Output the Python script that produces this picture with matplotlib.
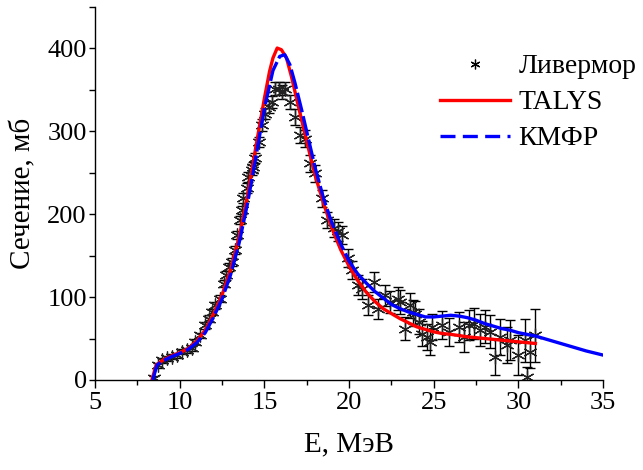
import matplotlib
matplotlib.use("Agg")
import matplotlib.pyplot as plt
from matplotlib.lines import Line2D
from matplotlib.ticker import MultipleLocator

plt.rcParams["font.family"] = ["Liberation Serif", "DejaVu Serif"]

# Livermore experimental points
exp_e = [8.45, 8.74, 8.94, 9.23, 9.53, 9.83, 10.12, 10.42, 10.7, 10.9,
         11.2, 11.5, 11.7, 11.9, 12.1, 12.4, 12.6, 12.7, 12.9, 13.1,
         13.27, 13.37, 13.56, 13.66, 13.76, 13.96, 14.05, 14.25, 14.35, 14.45,
         14.65, 14.85, 15.04, 15.24, 15.44, 15.63, 15.83, 16.03, 16.22, 16.5,
         16.8, 17.1, 17.4, 17.7, 18.0, 18.4, 18.7, 19.08, 19.37, 19.57,
         19.96, 20.16, 20.55, 20.75, 21.14, 21.44, 21.73, 22.13, 22.4, 22.9,
         23.0, 23.3, 23.6, 23.8, 23.9, 24.1, 24.3, 24.6, 24.8, 24.9,
         25.5, 25.9, 26.5, 26.8, 27.05, 27.35, 27.7, 28.0, 28.3, 28.6,
         28.9, 29.3, 29.5, 30.0, 30.4, 30.5, 30.7, 31.0]
exp_sigma = [2, 18, 24, 26, 28, 30, 34, 36, 38, 46,
             54, 66, 74, 82, 90, 98, 116, 126, 136, 142,
             157, 175, 193, 205, 219, 231, 245, 253, 257, 267,
             287, 307, 321, 329, 335, 351, 351, 347, 351, 335,
             317, 295, 291, 261, 249, 219, 193, 183, 179, 175,
             147, 133, 114, 110, 90, 118, 86, 102, 94, 98,
             94, 62, 90, 82, 80, 70, 56, 52, 46, 64,
             66, 58, 64, 52, 66, 68, 60, 64, 58, 28,
             52, 42, 48, 30, 48, 4, 34, 54]
exp_err = [3, 3, 3, 3, 3, 3, 3, 3, 3, 3,
           3, 4, 4, 4, 4, 4, 4, 5, 5, 5,
           5, 5, 5, 5, 6, 6, 6, 6, 6, 6,
           6, 7, 7, 7, 7, 8, 8, 8, 8, 9,
           10, 10, 10, 10, 10, 10, 10, 11, 11, 11,
           11, 11, 12, 12, 12, 12, 12, 13, 13, 14,
           14, 14, 15, 15, 15, 15, 15, 16, 16, 16,
           17, 17, 18, 18, 18, 19, 19, 20, 20, 22,
           22, 22, 24, 24, 26, 12, 20, 32]

# TALYS calculation
talys_e = [8.35, 8.6, 9.0, 9.5, 10.0, 10.5, 11.0, 11.5, 12.0, 12.5,
           13.0, 13.5, 14.0, 14.5, 15.0, 15.3, 15.5, 15.75, 16.0, 16.3,
           16.6, 17.0, 17.5, 18.0, 18.5, 19.0, 19.5, 20.0, 20.5, 21.0,
           21.5, 22.0, 22.5, 23.0, 23.5, 24.0, 24.5, 25.0, 25.5, 26.0,
           27.0, 28.0, 29.0, 30.0, 31.0]
talys_sigma = [0, 18, 24, 29, 33, 38, 47, 60, 80, 103,
               133, 172, 222, 282, 340, 372, 388, 400, 398, 388,
               365, 330, 287, 246, 212, 182, 157, 137, 120, 106,
               95, 86, 80, 74, 69, 64, 61, 58, 56, 55,
               52, 50, 48, 46, 44]

# KMFR calculation
kmfr_e = [8.4, 8.65, 9.0, 9.5, 10.0, 10.5, 11.0, 11.5, 12.0, 12.5,
          13.0, 13.5, 14.0, 14.5, 15.0, 15.5, 15.9, 16.2, 16.5, 16.8,
          17.2, 17.6, 18.0, 18.5, 19.0, 19.5, 20.0, 20.5, 21.0, 21.5,
          22.0, 22.5, 23.0, 23.5, 24.0, 24.5, 25.0, 25.5, 26.0, 26.5,
          27.0, 27.5, 28.0, 28.5, 29.0, 29.5, 30.0, 31.0, 32.0, 33.0,
          34.0, 35.0]
kmfr_sigma = [0, 18, 23, 28, 32, 37, 45, 57, 76, 98,
              127, 165, 213, 270, 328, 373, 390, 392, 380, 358,
              325, 290, 255, 218, 188, 164, 143, 128, 117, 107,
              99, 91, 86, 82, 79, 76, 76, 77, 78, 77,
              75, 72, 68, 65, 62, 60, 57, 53, 47, 41,
              35, 30]

star = (6, 2, 0)
# in the source the dense KMFR tail renders as an almost solid line
kmfr_split = kmfr_e.index(20.0)

fig = plt.figure(figsize=(6.43, 4.70), dpi=100)
ax = fig.add_axes([0.148, 0.1915, 0.79, 0.7945])

ax.errorbar(exp_e, exp_sigma, yerr=exp_err, fmt="none", ecolor="black",
            elinewidth=1.0, capsize=3.5, capthick=1.0, zorder=1)
ax.plot(exp_e, exp_sigma, linestyle="none", marker=star, markersize=10,
        color="#222222", markeredgewidth=0.9, zorder=2)
ax.plot(talys_e, talys_sigma, color="#ff0000", lw=2.4, zorder=3)
ax.plot(kmfr_e[:kmfr_split + 1], kmfr_sigma[:kmfr_split + 1],
        color="#0000ff", lw=2.4, dashes=(6, 1.2), zorder=4)
ax.plot(kmfr_e[kmfr_split:], kmfr_sigma[kmfr_split:],
        color="#0000ff", lw=2.4, zorder=4)

ax.set_xlim(5, 35)
ax.set_ylim(0, 450)
ax.xaxis.set_major_locator(MultipleLocator(5))
ax.xaxis.set_minor_locator(MultipleLocator(2.5))
ax.yaxis.set_major_locator(MultipleLocator(100))
ax.yaxis.set_minor_locator(MultipleLocator(50))
ax.tick_params(axis="x", which="major", direction="out", length=6, width=1,
               labelsize=19, pad=3)
ax.tick_params(axis="x", which="minor", direction="out", length=3.5, width=1)
ax.tick_params(axis="y", which="both", direction="out", length=4, width=1,
               labelsize=19, pad=2)
for side in ("top", "right"):
    ax.spines[side].set_visible(False)
for side in ("left", "bottom"):
    ax.spines[side].set_linewidth(1.0)

ax.set_xlabel("E, МэВ", fontsize=21, labelpad=12)
ax.set_ylabel("Сечение, мб", fontsize=21, labelpad=8)

handles = [
    Line2D([], [], linestyle="none", marker=star, markersize=7,
           color="black", markeredgewidth=0.9),
    Line2D([], [], color="#ff0000", lw=2.4),
    Line2D([], [], color="#0000ff", lw=2.4, dashes=(4.5, 2.2)),
]
labels = ["Ливермор", "TALYS", "КМФР"]
fig.legend(handles, labels, loc="upper left", bbox_to_anchor=(0.685, 0.885),
           frameon=False, fontsize=20, handlelength=2.5, handletextpad=0.3,
           labelspacing=0.38, borderpad=0, borderaxespad=0)

fig.savefig("out.png", dpi=100)
